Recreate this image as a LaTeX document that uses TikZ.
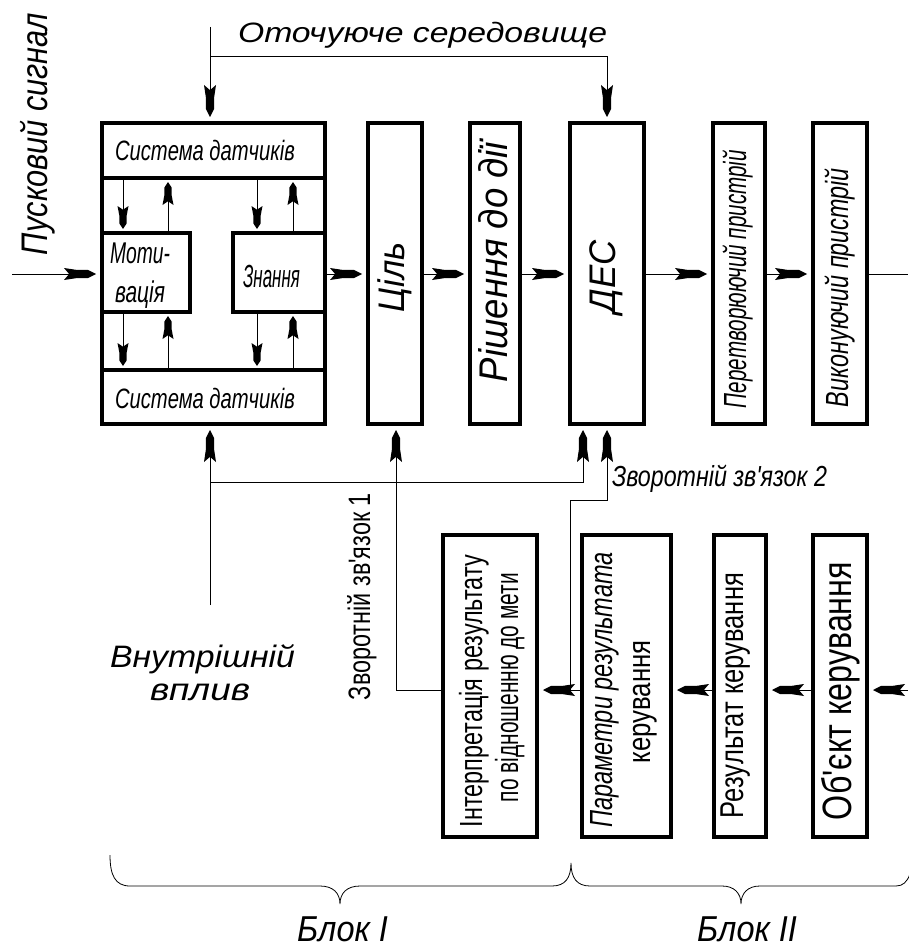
\documentclass[tikz,border=0pt]{standalone}
\usepackage{fontspec}
\setmainfont{Liberation Sans}
\usepackage{graphicx}
\usetikzlibrary{arrows.meta}

% #1 font size, #2 target width of the text, #3 text
\newcommand{\lbl}[3]{\fontsize{#1}{#1}\selectfont\resizebox{#2}{\height}{#3}}
\newcommand{\apos}{\textquotesingle}

% drafting-style dart: narrow pointed body with flared, notched tail
\pgfdeclarearrow{
  name = Dart,
  parameters = {\the\pgfarrowlength,\the\pgfarrowwidth},
  setup code = {
    \pgfarrowssettipend{0pt}
    \pgfarrowssetlineend{-0.5\pgfarrowlength}
    \pgfarrowssetbackend{-\pgfarrowlength}
    \pgfarrowssetvisualbackend{-0.8\pgfarrowlength}
    \pgfarrowshullpoint{0pt}{0pt}
    \pgfarrowshullpoint{-\pgfarrowlength}{.5\pgfarrowwidth}
    \pgfarrowshullpoint{-\pgfarrowlength}{-.5\pgfarrowwidth}
    \pgfarrowssavethe\pgfarrowlength
    \pgfarrowssavethe\pgfarrowwidth
  },
  drawing code = {
    \pgfpathmoveto{\pgfqpoint{0pt}{0pt}}
    \pgfpathlineto{\pgfqpoint{-0.25\pgfarrowlength}{0.34\pgfarrowwidth}}
    \pgfpathlineto{\pgfqpoint{-0.6\pgfarrowlength}{0.34\pgfarrowwidth}}
    \pgfpathlineto{\pgfqpoint{-\pgfarrowlength}{0.5\pgfarrowwidth}}
    \pgfpathlineto{\pgfqpoint{-0.84\pgfarrowlength}{0pt}}
    \pgfpathlineto{\pgfqpoint{-\pgfarrowlength}{-0.5\pgfarrowwidth}}
    \pgfpathlineto{\pgfqpoint{-0.6\pgfarrowlength}{-0.34\pgfarrowwidth}}
    \pgfpathlineto{\pgfqpoint{-0.25\pgfarrowlength}{-0.34\pgfarrowwidth}}
    \pgfpathclose
    \pgfusepathqfill
  },
  defaults = {length = 30pt, width = 11pt}
}

\begin{document}
\begin{tikzpicture}[x=1pt,y=-1pt,
  blk/.style={draw, line width=4pt, inner sep=0pt, minimum width=#1},
  conn/.style={line width=1pt},
  arr/.style={conn, -{Dart[length=32pt,width=12pt]}, shorten >=4pt},
  sarr/.style={conn, -{Dart[length=23pt,width=11pt]}, shorten >=2pt},
  txt/.style={inner sep=0pt, outer sep=0pt},
  brc/.style={line width=0.8pt}]
\useasboundingbox (0,0) rectangle (908,947);

% ---- sensing / knowledge unit ----
\node[blk=223pt, minimum height=301pt] (brain) at (213.5,273.5) {};
\node[blk=223pt, minimum height=55pt] (sensTop) at (213.5,150.5) {};
\node[blk=223pt, minimum height=54pt] (sensBot) at (213.5,397) {};
\node[blk=88pt, minimum height=79pt] (mot) at (146,272.5) {};
\node[blk=92pt, minimum height=79pt] (know) at (279,272.5) {};

% ---- upper chain ----
\node[blk=54pt, minimum height=301pt] (goal) at (395,273.5) {};
\node[blk=50pt, minimum height=301pt] (dec) at (495,273.5) {};
\node[blk=74pt, minimum height=301pt] (des) at (607,273.5) {};
\node[blk=52pt, minimum height=301pt] (conv) at (739,273.5) {};
\node[blk=54pt, minimum height=301pt] (exec) at (840,273.5) {};

% ---- lower chain ----
\node[blk=94pt, minimum height=302pt] (interp) at (490,686) {};
\node[blk=89pt, minimum height=302pt] (param) at (626.5,686) {};
\node[blk=52pt, minimum height=302pt] (res) at (740,686) {};
\node[blk=54pt, minimum height=302pt] (obj) at (840,686) {};

% ---- texts ----
\node[txt, anchor=base west] (envT) at (238,43) {\lbl{28pt}{369pt}{\itshape Оточуюче середовище}};
\node[txt, anchor=base west, rotate=90] (startT) at (47,255) {\lbl{37pt}{242pt}{\itshape Пусковий сигнал}};
\node[txt, anchor=base west] (sensTopT) at (115,160) {\lbl{28pt}{180pt}{\itshape Система датчиків}};
\node[txt, anchor=base west] (sensBotT) at (115,408) {\lbl{28pt}{180pt}{\itshape Система датчиків}};
\node[txt, anchor=base west] (motT1) at (110,263) {\lbl{30pt}{60pt}{\itshape Моти-}};
\node[txt, anchor=base west] (motT2) at (115,302) {\lbl{30pt}{50pt}{\itshape вація}};
\node[txt, anchor=base west] (knowT) at (243,287) {\lbl{32pt}{57pt}{\itshape Знання}};
\node[txt, anchor=base west, rotate=90] (goalT) at (404,312) {\lbl{37pt}{70pt}{\itshape Ціль}};
\node[txt, anchor=base west, rotate=90] (decT) at (507,382) {\lbl{40pt}{240pt}{\itshape Рішення до дії}};
\node[txt, anchor=base west, rotate=90] (desT) at (615,313) {\lbl{37pt}{73pt}{\itshape ДЕС}};
\node[txt, anchor=base west, rotate=90] (convT) at (746,408) {\lbl{32pt}{258pt}{\itshape Перетворюючий пристрій}};
\node[txt, anchor=base west, rotate=90] (execT) at (848,407) {\lbl{32pt}{239pt}{\itshape Виконуючий пристрій}};

\node[txt, anchor=base, rotate=90] (interpT1) at (482,691) {\lbl{32pt}{272pt}{Інтерпретація результату}};
\node[txt, anchor=base, rotate=90] (interpT2) at (518,687.5) {\lbl{32pt}{229pt}{по відношенню до мети}};
\node[txt, anchor=base, rotate=90] (paramT1) at (612,690) {\lbl{32pt}{275pt}{\itshape Параметри результата}};
\node[txt, anchor=base, rotate=90] (paramT2) at (650,702) {\lbl{32pt}{123pt}{керування}};
\node[txt, anchor=base, rotate=90] (resT) at (743,695.5) {\lbl{33pt}{245pt}{Результат керування}};
\node[txt, anchor=base, rotate=90] (objT) at (851,691) {\lbl{41pt}{258pt}{Об\apos єкт керування}};

\node[txt, anchor=base, rotate=90] (fb1T) at (370,596.5) {\lbl{31pt}{207pt}{Зворотній зв\apos язок 1}};
\node[txt, anchor=base west] (fb2T) at (612,486) {\lbl{29pt}{215pt}{\itshape Зворотній зв\apos язок 2}};
\node[txt, anchor=base west] (innerT1) at (110,667) {\lbl{31pt}{185pt}{\itshape Внутрішній}};
\node[txt, anchor=base west] (innerT2) at (150,700) {\lbl{31pt}{100pt}{\itshape вплив}};
\node[txt, anchor=base west] (blk1T) at (297,941) {\lbl{36pt}{91pt}{\itshape Блок I}};
\node[txt, anchor=base west] (blk2T) at (697,941) {\lbl{36pt}{100pt}{\itshape Блок II}};

% ---- helper coordinates ----
\coordinate (tl) at (0,274);
\coordinate (bl) at (0,690);
\coordinate (inL) at (12,274);
\coordinate (outR) at (908,274);
\coordinate (inR) at (908,690);
\coordinate (envTop) at (210,27);
\coordinate (envCorner) at (607,57);
\coordinate (inner) at (210,605);
\coordinate (fbA) at (583,482);
\coordinate (fb1) at (396,690);
\coordinate (fb2a) at (570,690);
\coordinate (fb2b) at (570,500);
\coordinate (fb2c) at (607,500);
\coordinate (k1) at (123,0);
\coordinate (k2) at (168,0);
\coordinate (k3) at (257,0);
\coordinate (k4) at (293,0);

% ---- upper chain connectors ----
\draw[arr] (inL) -- (brain.west |- inL);
\draw[arr] (know.east |- tl) -- (goal.west |- tl);
\draw[arr] (goal.east |- tl) -- (dec.west |- tl);
\draw[arr] (dec.east |- tl) -- (des.west |- tl);
\draw[arr] (des.east |- tl) -- (conv.west |- tl);
\draw[arr] (conv.east |- tl) -- (exec.west |- tl);
\draw[conn] (exec.east |- tl) -- (outR);

% ---- environment and internal influence ----
\draw[arr] (envTop) -- (brain.north -| envTop);
\draw[arr] (envTop |- envCorner) -- (envCorner) -- (des.north);
\draw[arr] (inner) -- (brain.south -| inner);
\draw[arr] (inner |- fbA) -- (fbA) -- (des.south -| fbA);

% ---- feedback loops ----
\draw[arr] (interp.west |- bl) -- (fb1) -- (goal.south -| fb1);
\draw[arr] (fb2a) -- (fb2b) -- (fb2c) -- (des.south -| fb2c);

% ---- lower chain connectors ----
\draw[arr] (inR) -- (obj.east |- bl);
\draw[arr] (obj.west |- bl) -- (res.east |- bl);
\draw[arr] (res.west |- bl) -- (param.east |- bl);
\draw[arr] (param.west |- bl) -- (interp.east |- bl);

% ---- exchanges inside the unit ----
\draw[sarr] (sensTop.south -| k1) -- (mot.north -| k1);
\draw[sarr] (mot.north -| k2) -- (sensTop.south -| k2);
\draw[sarr] (sensTop.south -| k3) -- (know.north -| k3);
\draw[sarr] (know.north -| k4) -- (sensTop.south -| k4);
\draw[sarr] (mot.south -| k1) -- (sensBot.north -| k1);
\draw[sarr] (sensBot.north -| k2) -- (mot.south -| k2);
\draw[sarr] (know.south -| k3) -- (sensBot.north -| k3);
\draw[sarr] (sensBot.north -| k4) -- (know.south -| k4);

% ---- block braces ----
\draw[brc] (110,855) .. controls (110,875) and (115,886) .. (130,886) -- (320,886)
  .. controls (333,886) and (340,893) .. (340,904)
  .. controls (340,893) and (347,886) .. (360,886) -- (552,886)
  .. controls (565,886) and (571,878) .. (571,863)
  .. controls (571,878) and (577,886) .. (590,886) -- (722,886)
  .. controls (734,886) and (741,893) .. (741,904)
  .. controls (741,893) and (748,886) .. (760,886) -- (896,886)
  .. controls (903,886) and (907,882) .. (910,874);
\end{tikzpicture}
\end{document}
